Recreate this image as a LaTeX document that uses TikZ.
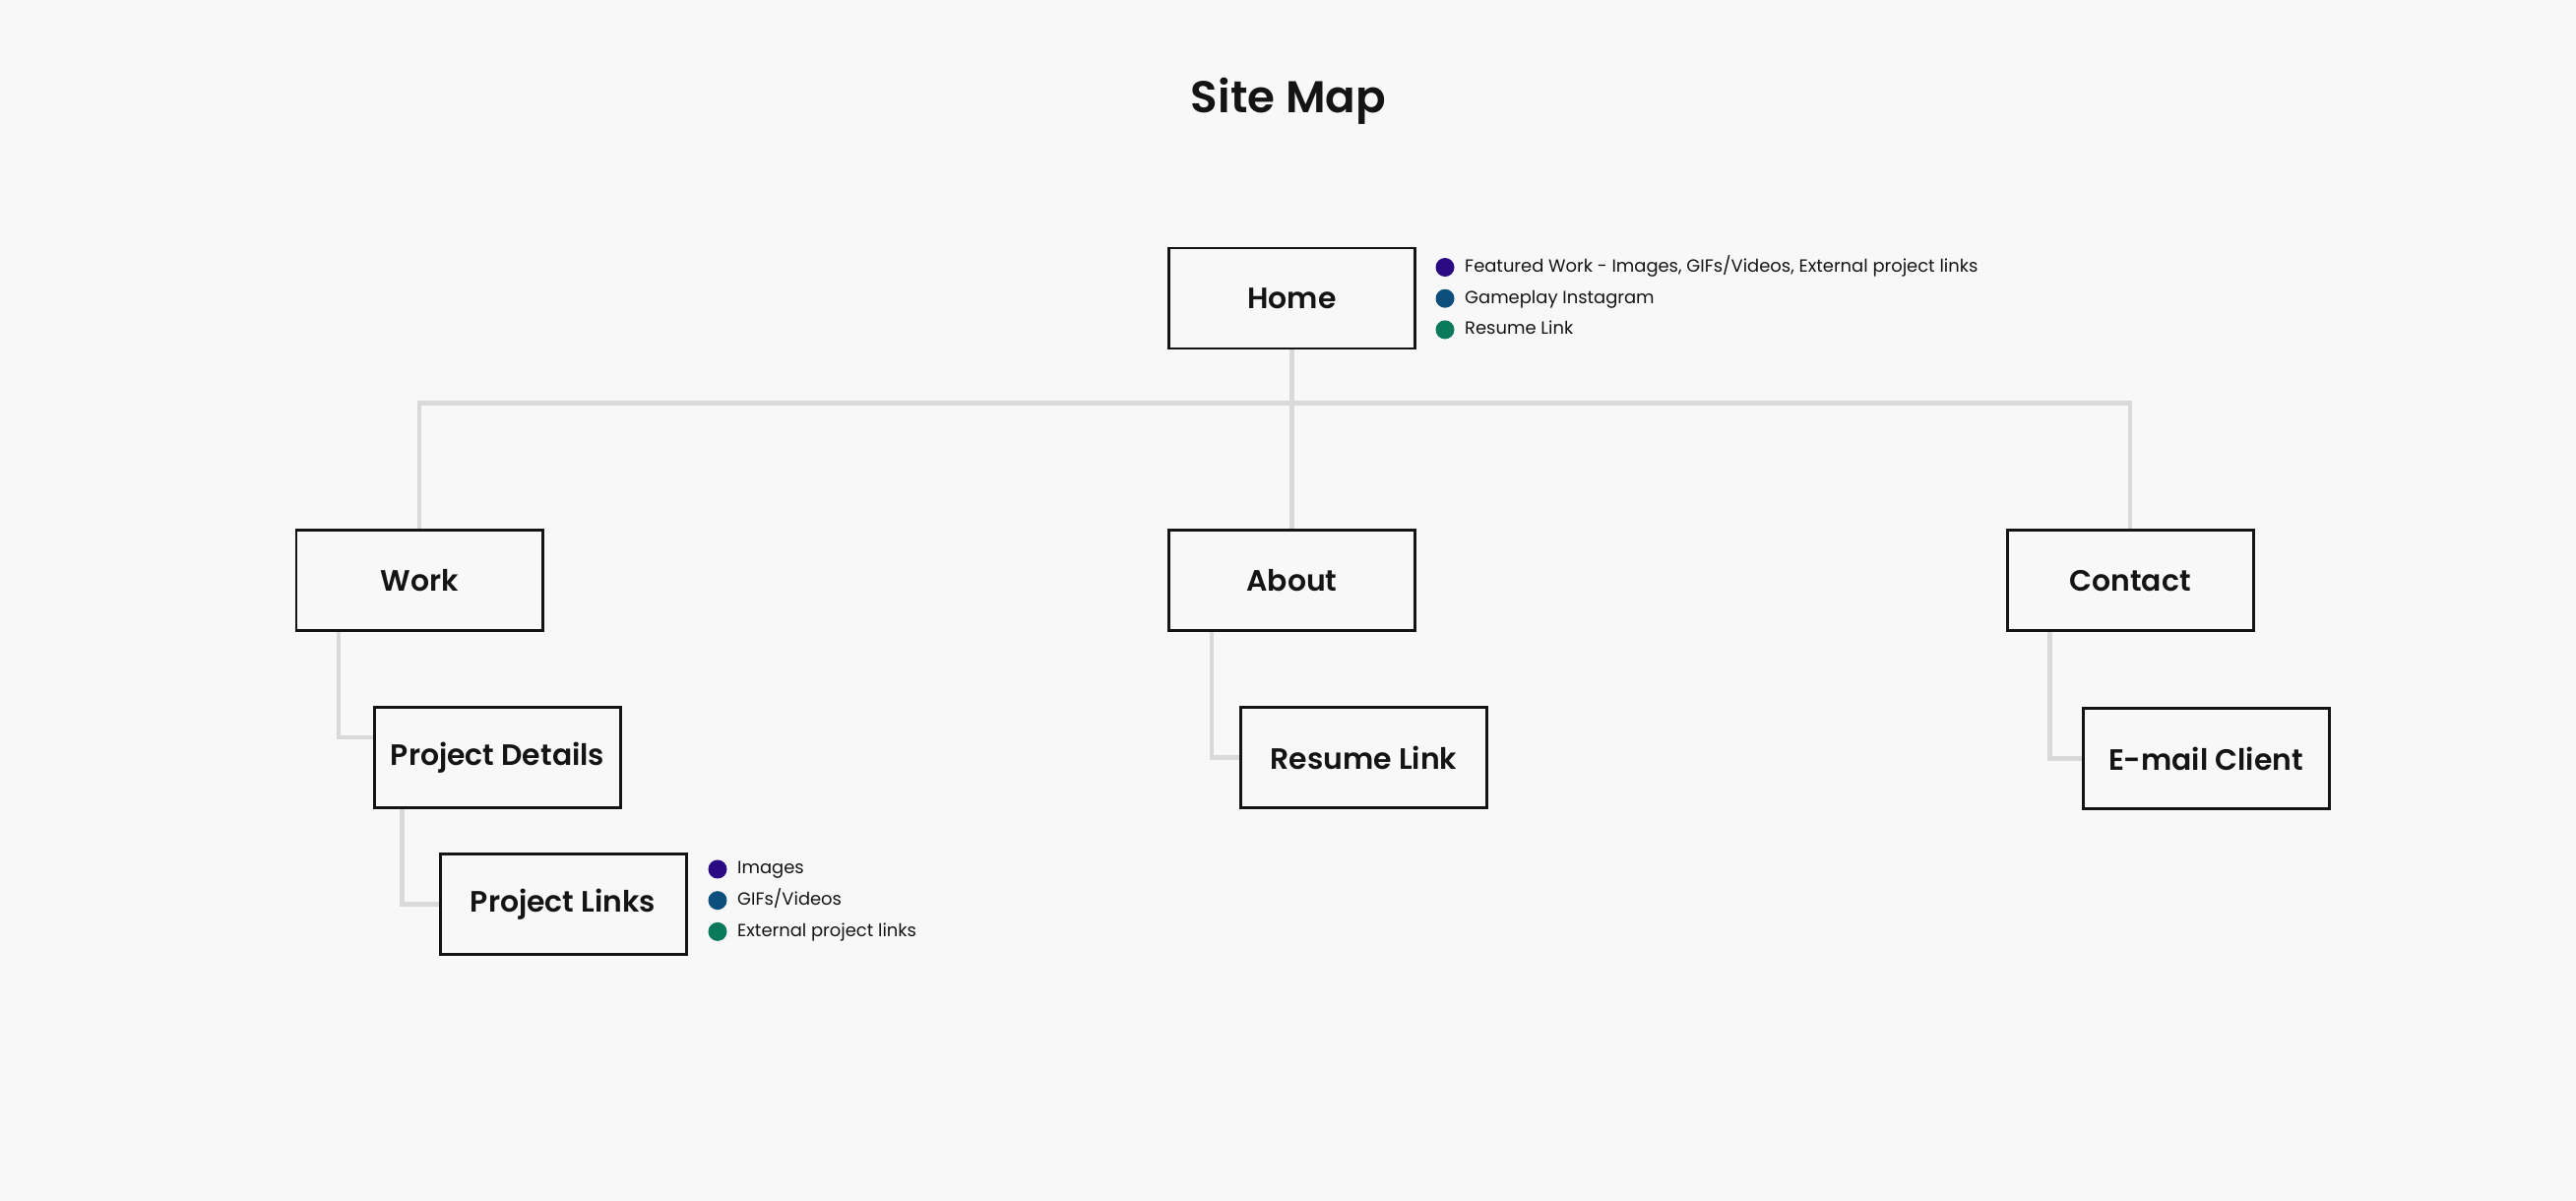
\documentclass[tikz,border=0pt]{standalone}
\usepackage{fontspec}
\setmainfont{Poppins}[BoldFont={* SemiBold}]
\usetikzlibrary{positioning}

\definecolor{bgcol}{HTML}{F8F8F8}
\definecolor{linkcol}{HTML}{D9D9D9}
\definecolor{inkcol}{HTML}{141414}
\definecolor{dotone}{HTML}{2A0A82}
\definecolor{dottwo}{HTML}{0D4F7C}
\definecolor{dotthree}{HTML}{0B7A5C}

\begin{document}
\begin{tikzpicture}[
    pagebox/.style={
        rectangle,
        draw=inkcol,
        fill=bgcol,
        line width=1.7pt,
        minimum width=5cm,
        minimum height=2.04cm,
        align=center,
        text=inkcol,
        font=\fontsize{17}{20}\selectfont\bfseries
    },
    bulletdot/.style={
        circle,
        minimum size=0.38cm,
        inner sep=0pt
    },
    note/.style={
        inner sep=0pt,
        text=inkcol,
        text height=0.75em,
        text depth=0.2em,
        font=\fontsize{10.2}{12}\selectfont
    },
    link/.style={draw=linkcol, line width=2.5pt}
]

% Background
\fill[bgcol] (0,0) rectangle (52.34,-24.4);

% Title
\node[font=\fontsize{25.7}{30}\selectfont\bfseries, text=inkcol, anchor=base] (title) at (26.18,-2.30) {Site Map};

% Home
\node[pagebox] (home) at (26.25,-6.06) {Home};

% Level 1 pages
\node[pagebox, below=3.64cm of home] (about) {About};
\node[pagebox, below=3.64cm of home, xshift=-17.73cm] (work) {Work};
\node[pagebox, below=3.64cm of home, xshift=17.03cm] (contact) {Contact};

% Level 2 pages
\node[pagebox, below=1.50cm of work, xshift=1.59cm] (details) {Project Details};
\node[pagebox, below=0.87cm of details, xshift=1.33cm] (links) {Project Links};
\node[pagebox, below=1.49cm of about, xshift=1.46cm] (resume) {Resume Link};
\node[pagebox, below=1.51cm of contact, xshift=1.54cm] (email) {E-mail Client};

% Connectors
\coordinate (bus) at ([yshift=-1.08cm]home.south);
\draw[link] (work) |- (bus) -| (contact);
\draw[link] (home) -- (about);
\draw[link] ([xshift=0.89cm]work.south west) |- ([yshift=0.42cm]details.west);
\draw[link] ([xshift=0.59cm]details.south west) |- (links.west);
\draw[link] ([xshift=0.9cm]about.south west) |- (resume.west);
\draw[link] ([xshift=0.9cm]contact.south west) |- (email.west);

% Home notes
\node[bulletdot, fill=dotone] (hdot1) at ([shift={(0.58,-0.42)}]home.north east) {};
\node[bulletdot, fill=dottwo, below=0.24cm of hdot1] (hdot2) {};
\node[bulletdot, fill=dotthree, below=0.24cm of hdot2] (hdot3) {};
\node[note, right=0.2cm of hdot1] (hnote1) {Featured Work - Images, GIFs/Videos, External project links};
\node[note, right=0.2cm of hdot2] (hnote2) {Gameplay Instagram};
\node[note, right=0.2cm of hdot3] (hnote3) {Resume Link};

% Project Links notes
\node[bulletdot, fill=dotone] (ldot1) at ([shift={(0.61,-0.34)}]links.north east) {};
\node[bulletdot, fill=dottwo, below=0.24cm of ldot1] (ldot2) {};
\node[bulletdot, fill=dotthree, below=0.24cm of ldot2] (ldot3) {};
\node[note, right=0.2cm of ldot1] (lnote1) {Images};
\node[note, right=0.2cm of ldot2] (lnote2) {GIFs/Videos};
\node[note, right=0.2cm of ldot3] (lnote3) {External project links};

\end{tikzpicture}
\end{document}
